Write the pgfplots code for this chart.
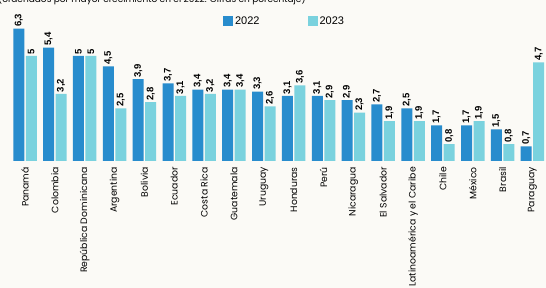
\documentclass[border=0pt]{standalone}
\usepackage{fontspec}
\setmainfont{Liberation Sans}
\newfontfamily\gothic{Poppins}
\usepackage{pgfplots}
\usepackage{pgfplotstable}
\pgfplotsset{compat=1.18}
\definecolor{c22}{RGB}{40,140,205}
\definecolor{c23}{RGB}{122,210,222}
\definecolor{bg}{RGB}{251,250,246}

\pgfplotstableread{
x y22 y23
0 6.3 5
1 5.4 3.2
2 5 5
3 4.5 2.5
4 3.9 2.8
5 3.7 3.1
6 3.4 3.2
7 3.4 3.4
8 3.3 2.6
9 3.1 3.6
10 3.1 2.9
11 2.9 2.3
12 2.7 1.9
13 2.5 1.9
14 1.7 0.8
15 1.7 1.9
16 1.5 0.8
17 0.7 4.7
}\data

\begin{document}
\begin{tikzpicture}[x=1pt,y=1pt]
\fill[bg] (0,0) rectangle (546,288);
\useasboundingbox (0,0) rectangle (546,288);
\begin{scope}
\clip (0,0) rectangle (546,288);
\node[anchor=base west, font=\gothic\fontsize{9}{10}\selectfont, inner sep=0] at (-2,285.5) {(ordenados por mayor crecimiento en el 2022. Cifras en porcentaje)};
\begin{axis}[
  at={(10.1pt,127pt)}, anchor=south west,
  scale only axis, width=537.3pt, height=136.5pt,
  xmin=-0.5, xmax=17.5, ymin=0, ymax=6.5,
  axis line style={draw=none},
  major tick length=0pt,
  ytick=\empty,
  xtick=data,
  xticklabels={Panamá,Colombia,República Dominicana,Argentina,Bolivia,Ecuador,Costa Rica,Guatemala,Uruguay,Honduras,Perú,Nicaragua,El Salvador,Latinoamérica y el Caribe,Chile,México,Brasil,Paraguay},
  xticklabel style={rotate=90, anchor=east, font=\gothic\fontsize{9.3}{10}\selectfont, inner sep=0pt, xshift=-6pt},
  ybar=1.5pt, bar width=11pt,
  clip=false,
  nodes near coords,
  nodes near coords style={rotate=90, anchor=west, font=\bfseries\fontsize{9.5}{10}\selectfont, inner sep=1.5pt, text=black},
  /pgf/number format/use comma,
  /pgf/number format/assume math mode=true,
  legend columns=2,
  legend style={draw=none, fill=none, at={(0.396,1.075)}, anchor=north west, font=\fontsize{11}{12}\selectfont, inner sep=0pt,
    /tikz/every even column/.append style={column sep=46pt}},
  legend image code/.code={\fill[#1] (0pt,-5pt) rectangle (10pt,5pt);},
]
\addplot[fill=c22, draw=none] table[x=x, y=y22] {\data};
\addplot[fill=c23, draw=none] table[x=x, y=y23] {\data};
\legend{2022,2023}
\end{axis}
\end{scope}
\end{tikzpicture}
\end{document}
